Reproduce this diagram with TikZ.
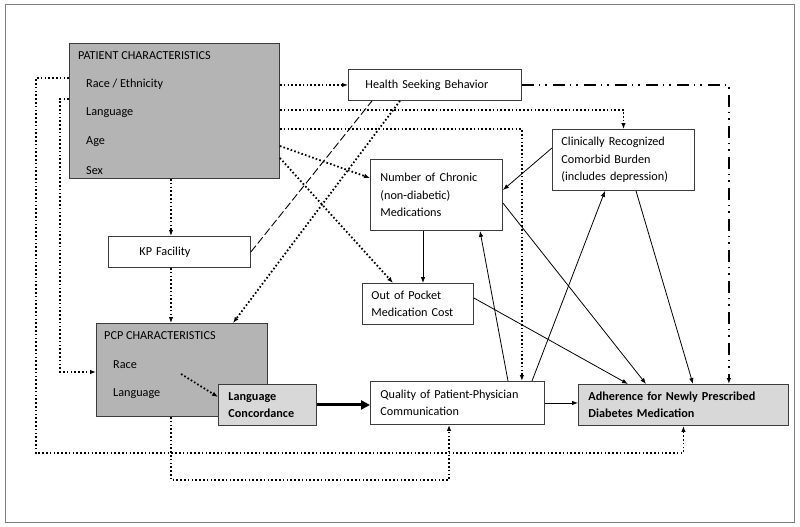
\documentclass[tikz,border=0pt]{standalone}
\usepackage{fontspec}
\setmainfont{Carlito}
\usepackage{tikz}
\usetikzlibrary{calc}
\usetikzlibrary{arrows.meta}

\definecolor{darkfill}{RGB}{180,180,180}
\definecolor{lightfill}{RGB}{216,216,216}
\definecolor{edgegray}{RGB}{60,60,60}

\tikzset{
    box/.style={draw=edgegray, line width=0.9pt, fill=white, anchor=north west,
        inner ysep=0pt, align=left, font=\fontsize{12.2}{17.5}\selectfont},
    lbl/.style={anchor=west, inner sep=0pt, font=\fontsize{12.2}{14}\selectfont},
    tip/.style={-{Latex[length=6pt,width=4.5pt]}},
    dotline/.style={line width=1.8pt, dash pattern=on 1.6pt off 2.2pt},
    dotarr/.style={dotline, tip},
    solidarr/.style={line width=0.8pt, tip},
}

\begin{document}
\begin{tikzpicture}[x=1pt,y=-1pt]
                \useasboundingbox (0,0) rectangle (800,527);
                \draw[gray, line width=1pt] (5,5) rectangle (794,522);

                \node[box, fill=darkfill, minimum width=210pt, minimum height=135pt] (pat) at (69,43) {};
                \node[lbl] (patT) at (78,56) {PATIENT CHARACTERISTICS};
                \node[lbl] (patRace) at (86,84) {Race / Ethnicity};
                \node[lbl] (patLang) at (86,113) {Language};
                \node[lbl] (patAge) at (86,142) {Age};
                \node[lbl] (patSex) at (86,171) {Sex};

                \node[box, text width=139pt, inner xsep=17pt, minimum height=31pt] (hsb) at (348,69) {Health Seeking Behavior};
                \node[box, text width=80pt, inner xsep=31pt, minimum height=31pt] (kp) at (108,236) {KP Facility};

                \node[box, fill=darkfill, minimum width=171pt, minimum height=93pt] (pcp) at (96,323) {};
                \node[lbl] (pcpT) at (104,336) {PCP CHARACTERISTICS};
                \node[lbl] (pcpRace) at (113,365) {Race};
                \node[lbl] (pcpLang) at (113,394) {Language};

                \node[box, fill=lightfill, text width=78pt, inner xsep=10pt, minimum height=41pt] (lc) at (218,384) {\textbf{Language}\\\textbf{Concordance}};
                \node[box, text width=154pt, inner xsep=10pt, minimum height=43pt] (qual) at (370,381) {Quality of Patient-Physician\\Communication};
                \node[box, fill=lightfill, text width=190pt, inner xsep=10pt, minimum height=41pt] (adh) at (578,384) {\textbf{Adherence for Newly Prescribed}\\\textbf{Diabetes Medication}};
                \node[box, text width=93pt, inner xsep=9pt, minimum height=41pt] (oop) at (362,283) {Out of Pocket\\Medication Cost};
                \node[box, text width=112pt, inner xsep=10pt, minimum height=71pt] (ncm) at (370,159) {Number of Chronic\\(non-diabetic)\\Medications};
                \node[box, text width=124pt, inner xsep=9pt, minimum height=61pt] (ccb) at (552,129) {Clinically Recognized\\Comorbid Burden\\(includes depression)};

                \coordinate (kpx) at ([xshift=-8.5pt]kp.north);

                \draw[dotarr] (pat.east |- hsb.west) -- (hsb.west);
                \draw[dotarr] ([yshift=-67pt]pat.north east) -| (ccb.north);
                \draw[dotarr] ([yshift=-86pt]pat.north east) -| ([xshift=-23pt]qual.north east);
                \draw[dotarr] ([yshift=-103pt]pat.north east) -- ([yshift=-19pt]ncm.north west);
                \draw[dotarr] ([yshift=-115pt]pat.north east) -- ([xshift=31pt]oop.north west);
                \draw[dotarr] (kpx |- pat.south) -- (kpx);
                \draw[dotarr] (kpx |- kp.south) -- (kpx |- pcp.north);
                \draw[black, line width=0.9pt, dash pattern=on 8pt off 3pt] (kp.east) -- ([xshift=24pt]hsb.south west);
                \draw[dotarr] ([xshift=52pt]hsb.south west) -- ([xshift=137pt]pcp.north west);

                \draw[dotarr] ([yshift=-35pt]pat.north west) -- ++(-33,0) -- ++(0,375) -| (adh.south);
                \draw[dotarr] ([yshift=-56pt]pat.north west) -- ++(-9,0) |- ([yshift=-49pt]pcp.north west);
                \draw[dotarr] ([xshift=44pt,yshift=-9pt]pcpRace.east) -- ([yshift=8pt]lc.west);
                \draw[dotarr] (kpx |- pcp.south) -- ++(0,63) -| ([xshift=79pt]qual.south west);

                \draw[line width=3pt, -{Triangle[length=9pt,width=9pt]}] (lc.east) -- (qual.west |- lc.east);
                \draw[solidarr] (qual.east) -- (adh.west |- qual.east);
                \draw[line width=1.6pt, dash pattern=on 12pt off 5pt on 1.5pt off 5pt on 1.5pt off 6pt, tip] (hsb.east) -| ([xshift=-60pt]adh.north east);

                \draw[solidarr] ([yshift=-19pt]ccb.north west) -- ([yshift=-31pt]ncm.north east);
                \draw[solidarr] ([xshift=53pt]ncm.south west) -- ([xshift=53pt]oop.north west -| ncm.south west);
                \draw[solidarr] ([xshift=138pt]qual.north west) -- ([xshift=110pt]ncm.south west);
                \draw[solidarr] ([xshift=162pt]qual.north west) -- ([xshift=53pt]ccb.south west);
                \draw[solidarr] ([yshift=-44pt]ncm.north east) -- ([xshift=68pt]adh.north west);
                \draw[solidarr] ([yshift=-15pt]oop.north east) -- ([xshift=50pt]adh.north west);
                \draw[solidarr] ([xshift=84pt]ccb.south west) -- ([xshift=115pt]adh.north west);
            \end{tikzpicture}
\end{document}
